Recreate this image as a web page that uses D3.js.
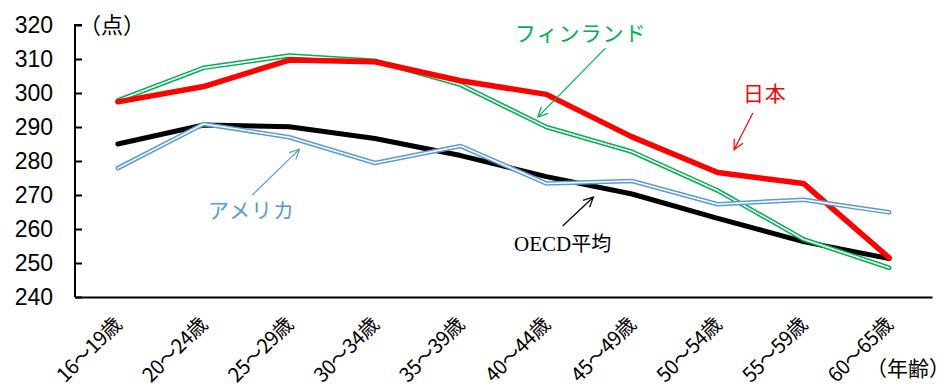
<!DOCTYPE html>
<html><head><meta charset="utf-8">
<script src="https://cdn.jsdelivr.net/npm/d3@7"></script>
<style>
html,body{margin:0;padding:0;background:#fff;}
svg{display:block;}
.num{font-family:"Liberation Sans Narrow","Liberation Sans",sans-serif;}
.jp{font-family:"Noto Sans CJK JP","Noto Sans",sans-serif;}
</style></head>
<body>
<svg id="c" width="951" height="387"></svg>
<script>
const categories = ["16～19歳","20～24歳","25～29歳","30～34歳","35～39歳","40～44歳","45～49歳","50～54歳","55～59歳","60～65歳"];
const japan   = [297.4, 301.9, 309.7, 309.2, 303.6, 299.6, 287.1, 276.6, 273.4, 251.5];
const finland = [297.8, 307.4, 311.0, 309.5, 302.4, 290.0, 282.7, 271.3, 257.0, 248.6];
const usa     = [277.9, 290.9, 287.0, 279.4, 284.4, 273.4, 274.1, 267.3, 268.6, 264.9];
const oecd    = [285.0, 290.6, 290.1, 286.6, 281.6, 275.4, 270.3, 263.1, 256.3, 251.3];
const yTicks  = [240, 250, 260, 270, 280, 290, 300, 310, 320];

const svg = d3.select("#c");
const x = d3.scaleBand().domain(categories).range([75, 932]);
const y = d3.scaleLinear().domain([240, 320]).range([297, 25]);
const cx = d => x(d) + x.bandwidth()/2;
const xi = i => cx(categories[0]) + i * x.step();

// Y axis
const yAxis = d3.axisRight(y).tickValues(yTicks).tickSize(7).tickFormat("");
const ga = svg.append("g").attr("transform","translate(75,0)").call(yAxis);
ga.select(".domain").attr("stroke","#000").attr("stroke-width",2).attr("d","M7,25H0V297");
ga.selectAll(".tick line").attr("stroke","#000").attr("stroke-width",2);
svg.append("g").selectAll("text").data(yTicks).join("text")
  .attr("class","num").attr("x",53).attr("y",d=>y(d)).attr("dy","0.36em")
  .attr("text-anchor","end").attr("font-size",23).attr("fill","#000").text(d=>d);

// X axis
const xAxis = d3.axisBottom(x).tickSize(0).tickFormat("");
const gx = svg.append("g").attr("transform","translate(0,297)").call(xAxis);
gx.select(".domain").attr("stroke","#000").attr("stroke-width",2);
svg.append("g").selectAll("text").data(categories).join("text")
  .attr("class","jp")
  .attr("transform",d=>`translate(${cx(d)+5},${326}) rotate(-45)`)
  .attr("text-anchor","end").attr("font-size",20).attr("letter-spacing","-0.5")
  .attr("fill","#000").text(d=>d);

svg.append("text").attr("class","jp").attr("x",79).attr("y",33)
  .attr("font-size",22).text("（点）");
svg.append("text").attr("class","jp").attr("x",950).attr("y",376)
  .attr("text-anchor","end").attr("font-size",21).text("（年齢）");

const line = d3.line().x((d,i)=>cx(categories[i])).y(d=>y(d));

// OECD
svg.append("path").attr("d",line(oecd)).attr("fill","none")
  .attr("stroke","#000").attr("stroke-width",5).attr("stroke-linejoin","round").attr("stroke-linecap","round");
// double lines
function dbl(data,color){
  svg.append("path").attr("d",line(data)).attr("fill","none")
    .attr("stroke",color).attr("stroke-width",4.6).attr("stroke-linejoin","round").attr("stroke-linecap","round");
  svg.append("path").attr("d",line(data)).attr("fill","none")
    .attr("stroke","#fff").attr("stroke-width",1.6).attr("stroke-linejoin","round").attr("stroke-linecap","round");
}
dbl(finland,"#00b050");
// Japan
svg.append("path").attr("d",line(japan)).attr("fill","none")
  .attr("stroke","#ff0000").attr("stroke-width",5.5).attr("stroke-linejoin","round").attr("stroke-linecap","round");
dbl(usa,"#5b9bd5");

// annotations
const notes = [
  {text:"フィンランド", color:"#00b050", tx:5.4, tv:317.5, from:[5.69,313.2], to:[4.9,292.9], cls:"jp"},
  {text:"日本", color:"#ff0000", tx:7.55, tv:299.8, from:[7.41,294.1], to:[7.19,283.3], cls:"jp"},
  {text:"アメリカ", color:"#5b9bd5", tx:1.56, tv:265.6, from:[1.57,270.0], to:[2.12,283.5], cls:"jp"},
  {text:"OECD平均", color:"#000", tx:5.19, tv:255.9, from:[5.19,260.9], to:[5.55,269.4], cls:"oecd"}
];
notes.forEach(n=>{
  const t = svg.append("text").attr("x",xi(n.tx)).attr("y",y(n.tv)).attr("dy","0.36em")
    .attr("text-anchor","middle").attr("fill",n.color).attr("font-size",21);
  if(n.cls==="oecd"){
    t.append("tspan").attr("font-family","'Liberation Serif',serif").attr("font-size",21).text("OECD");
    t.append("tspan").attr("font-family","'Noto Sans CJK JP'").attr("font-size",20).text("平均");
  } else {
    t.attr("class","jp").attr("letter-spacing","1").text(n.text);
  }
  const x1=xi(n.from[0]), y1=y(n.from[1]), x2=xi(n.to[0]), y2=y(n.to[1]);
  const ang=Math.atan2(y2-y1,x2-x1), L=11, a=0.45;
  const p = `M${x1},${y1}L${x2},${y2}M${x2-L*Math.cos(ang-a)},${y2-L*Math.sin(ang-a)}L${x2},${y2}L${x2-L*Math.cos(ang+a)},${y2-L*Math.sin(ang+a)}`;
  svg.append("path").attr("d",p).attr("fill","none").attr("stroke",n.color).attr("stroke-width",1.2);
});
</script>
</body></html>
